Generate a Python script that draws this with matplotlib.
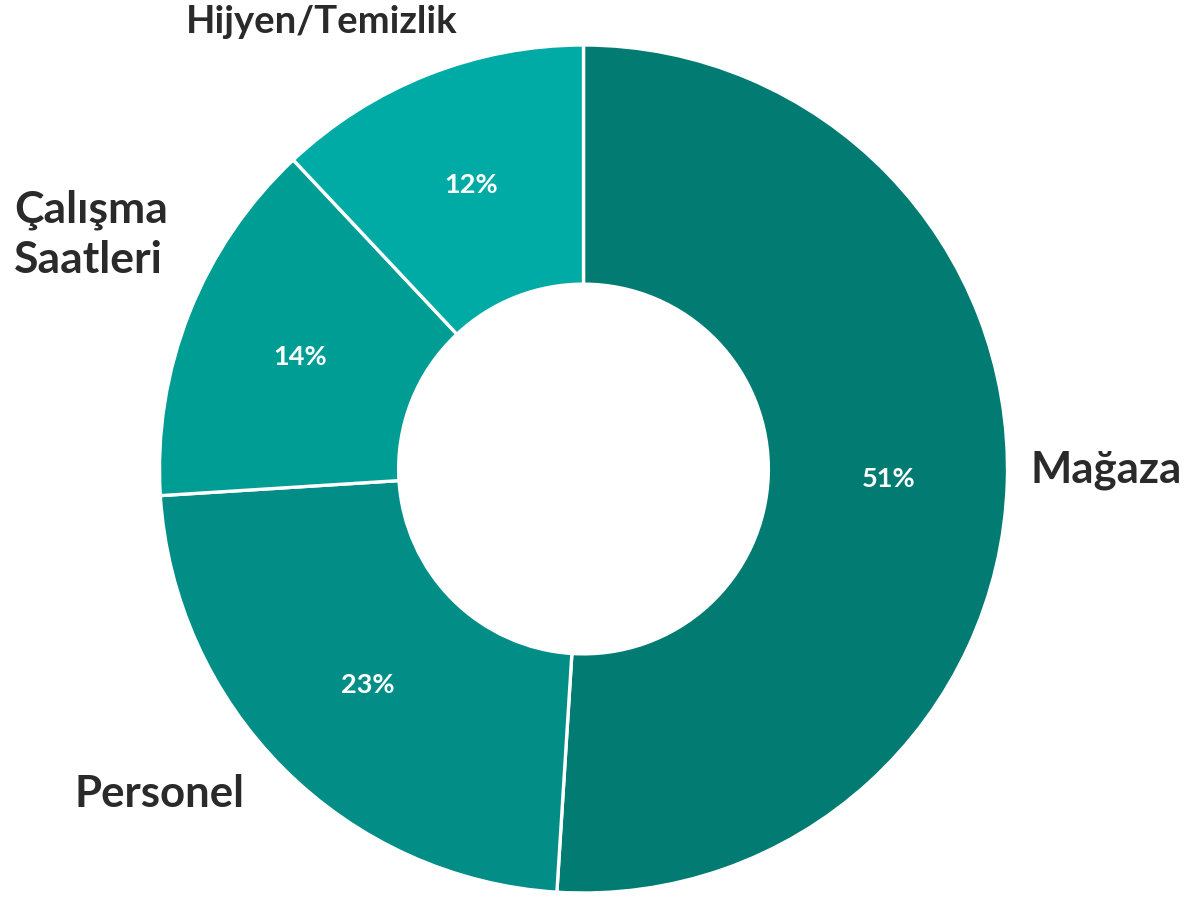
import matplotlib.pyplot as plt

categories = ["Mağaza", "Personel", "Çalışma\nSaatleri", "Hijyen/Temizlik"]
shares = [51, 23, 14, 12]
colors = ["#027b72", "#028e86", "#009d94", "#00aba5"]

W, H = 1189, 897
CX, CY, R = 583.5, 469, 424  # ring centre and radius in pixels


def px(x, y):
    # pixel position -> data units of the ring
    return (x - CX) / R, (CY - y) / R


fig = plt.figure(figsize=(W / 100, H / 100), dpi=100)
ax = fig.add_axes([0, 0, 1, 1])

wedges, _, pcts = ax.pie(
    shares, colors=colors, startangle=90, counterclock=False,
    radius=1.0, autopct="%.0f%%", pctdistance=0.72,
    wedgeprops=dict(width=0.564, edgecolor="white", linewidth=2.4),
    textprops=dict(color="white", fontsize=19.5, fontweight="bold", family="Lato"),
)

ax.set_xlim(-CX / R, (W - CX) / R)
ax.set_ylim((CY - H) / R, CY / R)
ax.set_aspect("auto")
ax.axis("off")

label_style = dict(color="#2a2a2a", fontweight="bold", family="Lato", va="center")
ax.text(*px(1030, 470), categories[0], ha="left", fontsize=31.5, **label_style)
ax.text(*px(159, 794), categories[1], ha="center", fontsize=31.5, **label_style)
ax.text(*px(91, 235), categories[2], ha="center", fontsize=32,
        multialignment="left", linespacing=1.3, **label_style)
ax.text(*px(322, 22), categories[3], ha="center", fontsize=27.5, **label_style)

plt.savefig("out.png", dpi=100)
